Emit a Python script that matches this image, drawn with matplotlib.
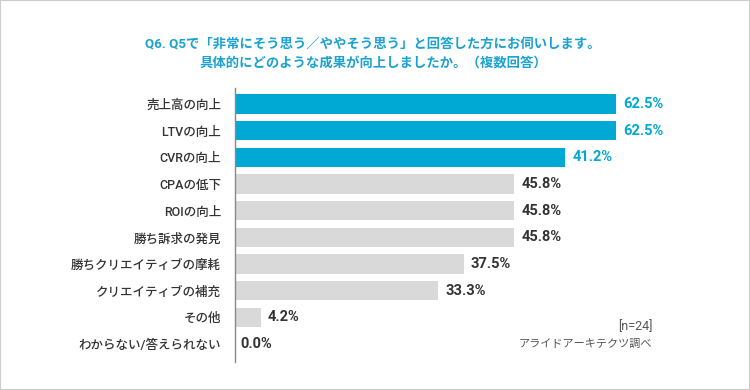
import matplotlib
matplotlib.use("Agg")
import matplotlib.pyplot as plt
from matplotlib.patches import Rectangle

plt.rcParams['font.family'] = ['Roboto', 'Noto Sans CJK JP', 'DejaVu Sans']

categories = ["売上高の向上", "LTVの向上", "CVRの向上", "CPAの低下", "ROIの向上",
              "勝ち訴求の発見", "勝ちクリエイティブの摩耗", "クリエイティブの補充",
              "その他", "わからない/答えられない"]
# bar lengths as drawn (CVR bar is drawn longer than its printed label)
values = [62.5, 62.5, 54.2, 45.8, 45.8, 45.8, 37.5, 33.3, 4.2, 0.0]
value_labels = ["62.5%", "62.5%", "41.2%", "45.8%", "45.8%", "45.8%",
                "37.5%", "33.3%", "4.2%", "0.0%"]
highlight = [True, True, True, False, False, False, False, False, False, False]

BLUE = "#00a9d3"
TITLE_BLUE = "#1ba2d0"
GRAY = "#d9d9d9"
TEXT = "#333333"

W, H = 750, 390
fig = plt.figure(figsize=(W / 100, H / 100), dpi=100)
fig.patch.set_facecolor("white")
fig.patches.append(Rectangle((0, 0), 1, 1, transform=fig.transFigure,
                             fill=False, edgecolor="#cccccc", lw=1.5))

left, right, top, bottom = 235, 616, 88, 362
ax = fig.add_axes([left / W, 1 - bottom / H, (right - left) / W, (bottom - top) / H])
ax.set_xlim(0, 62.5)
ax.set_ylim(9.675, -0.6)

y = range(len(categories))
colors = [BLUE if h else GRAY for h in highlight]
ax.barh(list(y), values, height=0.72, color=colors, zorder=2)

for yi, v, lab, h in zip(y, values, value_labels, highlight):
    ax.text(v + 1.2 if v > 0 else 0.8, yi, lab, ha="left", va="center",
            fontsize=10.5, fontweight="bold", color=BLUE if h else TEXT, clip_on=False)

ax.set_yticks(list(y))
ax.set_yticklabels(categories, fontsize=9, fontweight="medium", color=TEXT)
ax.tick_params(axis="y", length=0, pad=10)
ax.set_xticks([])
for s in ["top", "right", "bottom"]:
    ax.spines[s].set_visible(False)
ax.spines["left"].set_color("#888888")
ax.spines["left"].set_linewidth(1.0)
ax.set_facecolor("none")

fig.text(373 / W, 1 - 45 / H, "Q6. Q5で「非常にそう思う／ややそう思う」と回答した方にお伺いします。",
         ha="center", va="center", fontsize=9.6, fontweight="bold", color=TITLE_BLUE)
fig.text(373 / W, 1 - 63 / H, "具体的にどのような成果が向上しましたか。（複数回答）",
         ha="center", va="center", fontsize=9.6, fontweight="bold", color=TITLE_BLUE)

fig.text(653 / W, 1 - 327 / H, "[n=24]", ha="right", va="center", fontsize=9, color="#555555")
fig.text(652 / W, 1 - 344 / H, "アライドアーキテクツ調べ", ha="right", va="center",
         fontsize=8, color="#555555")

fig.savefig("out.png", dpi=100)
